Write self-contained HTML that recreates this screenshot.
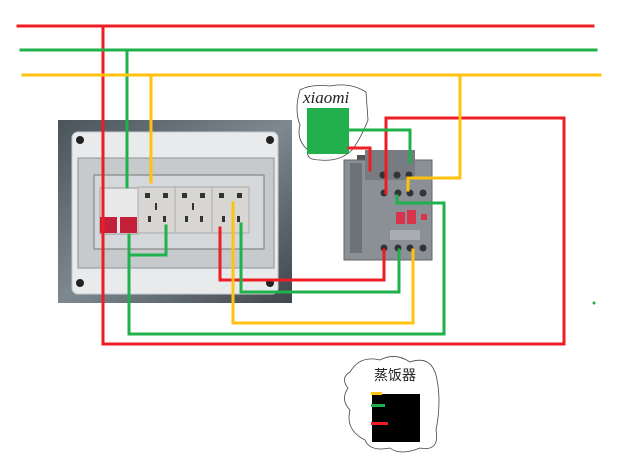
<!DOCTYPE html>
<html><head><meta charset="utf-8"><style>
html,body{margin:0;padding:0;background:#fff;width:624px;height:456px;overflow:hidden}
svg{display:block}
</style></head><body>
<svg width="624" height="456" viewBox="0 0 624 456" xmlns="http://www.w3.org/2000/svg">
<defs>
<linearGradient id="bg" x1="0" y1="0" x2="1" y2="1">
<stop offset="0" stop-color="#4a545a"/><stop offset="0.5" stop-color="#7d8890"/><stop offset="1" stop-color="#3f474c"/>
</linearGradient>
</defs>
<rect x="58" y="120" width="234" height="183" fill="url(#bg)"/>
<rect x="72" y="132" width="206" height="162" rx="6" fill="#e8eaec" stroke="#c8cbce"/>
<circle cx="80" cy="140" r="4" fill="#222"/><circle cx="270" cy="140" r="4" fill="#222"/>
<circle cx="80" cy="283" r="4" fill="#222"/><circle cx="270" cy="283" r="4" fill="#222"/>
<rect x="78" y="158" width="196" height="110" fill="#c6cacd" stroke="#8d9398"/>
<rect x="94" y="175" width="170" height="74" fill="#d5d8da" stroke="#777"/>
<rect x="100" y="188" width="38" height="46" fill="#e8e8e8" stroke="#999"/>
<rect x="100" y="217" width="17" height="16" fill="#c4203a"/><rect x="120" y="217" width="17" height="16" fill="#c4203a"/>
<g fill="#d8d6d2" stroke="#aaa"><rect x="138" y="187" width="37" height="46"/><rect x="175" y="187" width="37" height="46"/><rect x="212" y="187" width="37" height="46"/></g>
<g fill="#333">
<rect x="145" y="193" width="5" height="5"/><rect x="163" y="193" width="5" height="5"/><rect x="155" y="203" width="2" height="7"/><rect x="148" y="216" width="3" height="6"/><rect x="163" y="216" width="3" height="6"/>
<rect x="182" y="193" width="5" height="5"/><rect x="200" y="193" width="5" height="5"/><rect x="192" y="203" width="2" height="7"/><rect x="185" y="216" width="3" height="6"/><rect x="200" y="216" width="3" height="6"/>
<rect x="219" y="193" width="5" height="5"/><rect x="237" y="193" width="5" height="5"/><rect x="222" y="216" width="3" height="6"/><rect x="237" y="216" width="3" height="6"/>
</g>
<path d="M300 90 Q310 84 330 86 Q350 82 366 92 L368 120 Q360 140 352 150 Q340 162 320 160 Q305 160 308 150 Q296 140 300 125 Q294 110 300 90Z" fill="#fff" stroke="#444" stroke-width="0.8"/>
<text x="303" y="103" font-family="Liberation Serif,serif" font-style="italic" font-size="17" fill="#222">xiaomi</text>
<rect x="307" y="108" width="42" height="46" fill="#21b04b"/>
<rect x="357" y="155" width="18" height="70" fill="#555"/>
<rect x="344" y="160" width="88" height="100" fill="#8b9096" stroke="#666"/>
<rect x="350" y="163" width="12" height="90" fill="#6d7278"/>
<rect x="365" y="150" width="50" height="30" fill="#777c82"/>
<g fill="#333"><circle cx="383" cy="175" r="3.5"/><circle cx="397" cy="175" r="3.5"/><circle cx="409" cy="175" r="3.5"/>
<circle cx="384" cy="193" r="3.5"/><circle cx="398" cy="193" r="3.5"/><circle cx="410" cy="193" r="3.5"/><circle cx="423" cy="193" r="3.5"/>
<circle cx="384" cy="248" r="3.5"/><circle cx="398" cy="248" r="3.5"/><circle cx="410" cy="248" r="3.5"/><circle cx="423" cy="248" r="3.5"/></g>
<rect x="396" y="212" width="9" height="12" fill="#d8334a"/><rect x="407" y="210" width="9" height="14" fill="#d8334a"/><rect x="421" y="214" width="6" height="6" fill="#d8334a"/>
<rect x="390" y="230" width="30" height="10" fill="#a9adb1"/>
<g fill="none" stroke-width="3" stroke-linecap="square">
<path d="M18 26H593M103 26V344H564V118H386V193" stroke="#ee1c24"/>
<path d="M220 228V280H384V250" stroke="#ee1c24"/>
<path d="M349 148H370V170" stroke="#ee1c24"/>
<path d="M21 50H596M127 50V187" stroke="#1fb14b"/>
<path d="M129 235V334H444V203H397V196" stroke="#1fb14b"/>
<path d="M129 255H166V226" stroke="#1fb14b"/>
<path d="M241 224V292H399V250" stroke="#1fb14b"/>
<path d="M349 130H410V162" stroke="#1fb14b"/>
<path d="M23 75H600M151 75V182" stroke="#ffc20e"/>
<path d="M460 75V178H408V190" stroke="#ffc20e"/>
<path d="M233 203V323H413V250" stroke="#ffc20e"/>
</g>
<circle cx="594" cy="303" r="1.5" fill="#1fb14b"/>
<path d="M350 372 Q360 355 380 360 Q395 352 410 362 Q430 355 436 375 Q442 400 436 430 Q440 452 420 448 Q400 456 390 448 Q370 452 365 440 Q345 430 350 410 Q340 400 348 388 Q340 378 350 372Z" fill="#fff" stroke="#444" stroke-width="0.8"/>
<text x="374" y="380" font-family="Liberation Sans,'Noto Sans CJK SC',sans-serif" font-size="14" fill="#222">蒸饭器</text>
<rect x="372" y="394" width="48" height="48" fill="#000"/>
<rect x="371" y="392" width="11" height="3" fill="#ffc20e"/>
<rect x="371" y="404" width="14" height="3" fill="#1fb14b"/>
<rect x="371" y="422" width="17" height="3" fill="#ee1c24"/>
</svg>
</body></html>
